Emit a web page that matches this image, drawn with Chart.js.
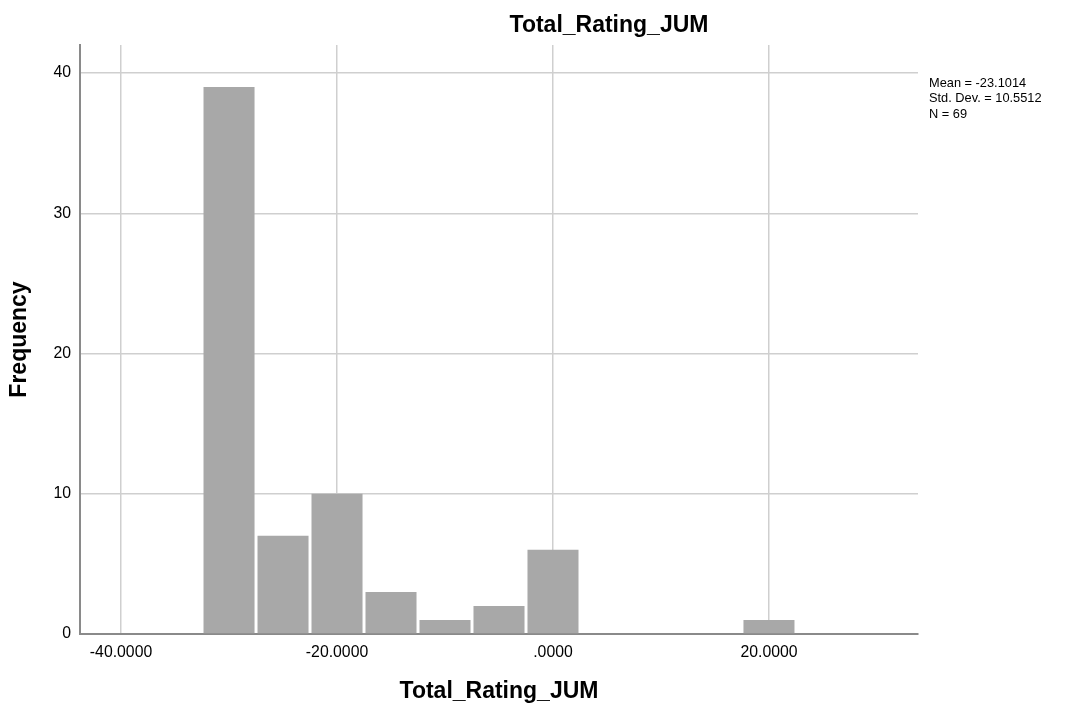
<!DOCTYPE html>
<html>
<head>
<meta charset="utf-8">
<title>Total_Rating_JUM</title>
<script src="https://cdn.jsdelivr.net/npm/chart.js@4.4.1/dist/chart.umd.min.js"></script>
<style>
  html, body { margin: 0; padding: 0; background: #fff; }
  #wrap { width: 1073px; height: 711px; }
</style>
</head>
<body>
<div id="wrap"><canvas id="histChart"></canvas></div>
<script>
'use strict';

// ===== Histogram data (bin centres, width 5) =====
const binCenters = [-30, -25, -20, -15, -10, -5, 0, 20];
const frequencies = [39, 7, 10, 3, 1, 2, 6, 1];
const yTicks = [0, 10, 20, 30, 40];
const xTicks = [-40, -20, 0, 20];
const statLines = ['Mean = -23.1014', 'Std. Dev. = 10.5512', 'N = 69'];

const chartTitle = 'Total_Rating_JUM';
const xTitle = 'Total_Rating_JUM';
const yTitle = 'Frequency';

const fontFamily = "'Liberation Sans', Arial, sans-serif";
const barColor = '#a8a8a8';
const gridColor = '#cfcfcf';
const axisColor = '#8a8a8a';
const textColor = '#000';

Chart.defaults.font.family = fontFamily;
Chart.defaults.color = textColor;

// SPSS style number format: 0 -> ".0000"
const fmt = v => {
  const s = v.toFixed(4);
  return s.replace(/^(-?)0\./, '$1.');
};

// Title and summary text are drawn straight on the canvas
const annotations = {
  id: 'annotations',
  afterDraw(chart) {
    const ctx = chart.ctx;
    ctx.save();
    ctx.fillStyle = textColor;
    ctx.textBaseline = 'middle';
    ctx.textAlign = 'center';
    ctx.font = 'bold 23px ' + fontFamily;
    ctx.fillText(chartTitle, 609, 26);

    ctx.textAlign = 'left';
    ctx.font = '12.8px ' + fontFamily;
    statLines.forEach((t, i) => ctx.fillText(t, 929, 83 + i * 15.5));
    ctx.restore();
  }
};

const ctx = document.getElementById('histChart');
new Chart(ctx, {
  type: 'bar',
  data: {
    datasets: [{
      data: binCenters.map((x, i) => ({ x: x, y: frequencies[i] })),
      backgroundColor: barColor,
      borderWidth: 0,
      barPercentage: 0.945,
      categoryPercentage: 1.0,
    }]
  },
  options: {
    responsive: true,
    maintainAspectRatio: false,
    animation: false,
    layout: { padding: { top: 45, right: 155, bottom: 0, left: 0 } },
    plugins: {
      legend: { display: false },
      tooltip: { enabled: false },
      title: { display: false }
    },
    scales: {
      x: {
        type: 'linear',
        min: -43.8,
        max: 33.8,
        offset: false,
        afterFit: s => { s.height = 77; },
        afterBuildTicks: s => { s.ticks = xTicks.map(v => ({ value: v })); },
        grid: { offset: false, color: gridColor, lineWidth: 1.5, drawTicks: false },
        border: { color: axisColor, width: 2 },
        ticks: {
          autoSkip: false, maxRotation: 0, padding: 9,
          font: { size: 15.8 }, color: textColor,
          callback: v => fmt(v)
        },
        title: {
          display: true, text: xTitle, color: textColor,
          font: { size: 23, weight: 'bold', lineHeight: 1.2 },
          padding: { top: 0, bottom: 5.2 }
        }
      },
      y: {
        min: 0,
        max: 42,
        afterFit: s => { s.width = 80; },
        afterBuildTicks: s => { s.ticks = yTicks.map(v => ({ value: v })); },
        grid: { color: gridColor, lineWidth: 1.5, drawTicks: false },
        border: { color: axisColor, width: 2 },
        ticks: {
          autoSkip: false, padding: 9,
          font: { size: 15.8 }, color: textColor,
          callback: v => String(v)
        },
        title: {
          display: true, text: yTitle, color: textColor,
          font: { size: 23, weight: 'bold', lineHeight: 1.2 },
          padding: { top: 6.2, bottom: 0 }
        }
      }
    }
  },
  plugins: [annotations]
});
</script>
</body>
</html>
